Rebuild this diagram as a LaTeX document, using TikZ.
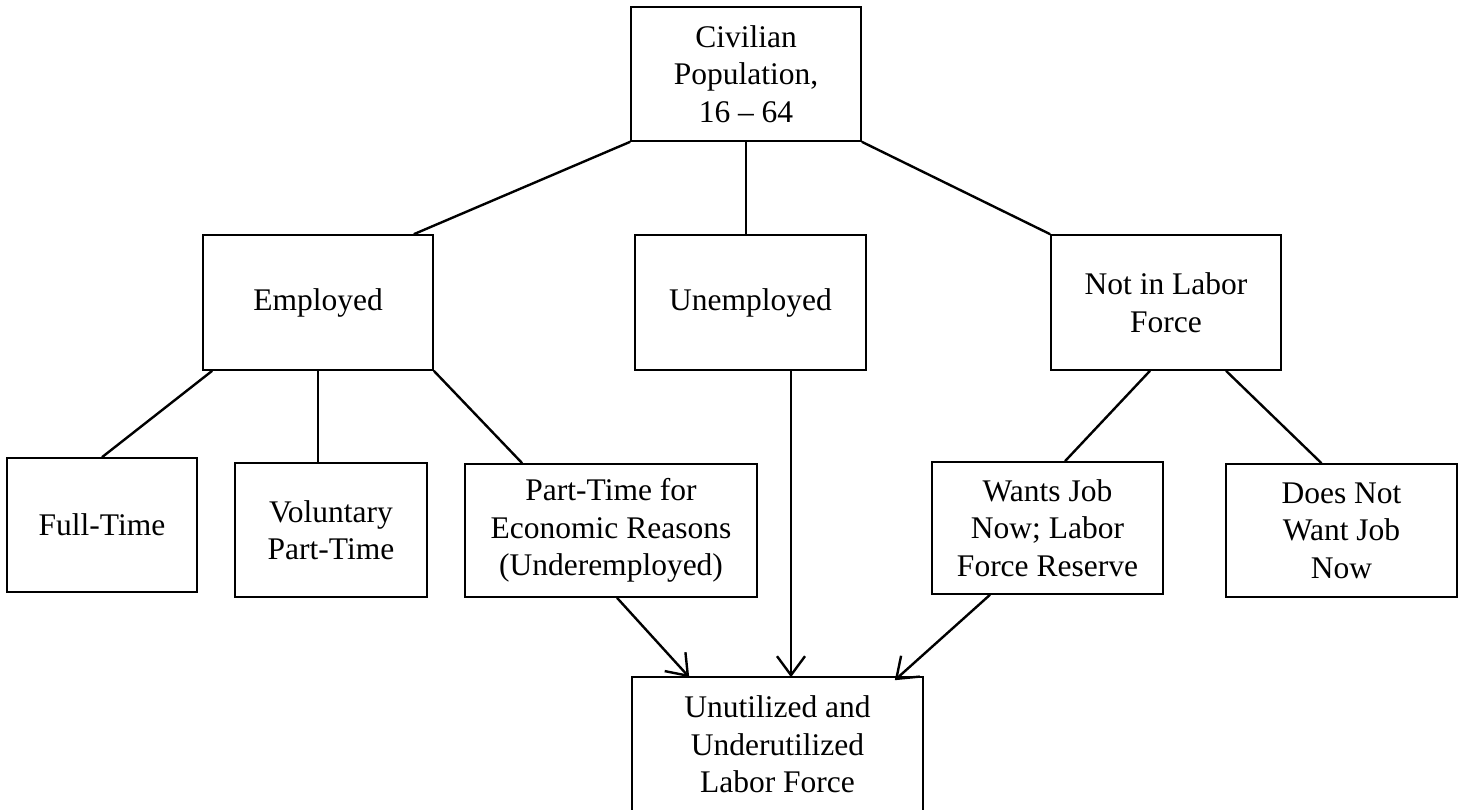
\documentclass[tikz,border=0pt]{standalone}
\usepackage{fontspec}
\setmainfont{Liberation Serif}
\usetikzlibrary{arrows.meta}
\begin{document}
\begin{tikzpicture}[x=1pt,y=-1pt,
  box/.style={draw, line width=1.6pt, rectangle, inner sep=0pt, align=center,
    font=\fontsize{31.5}{37.5}\selectfont},
  link/.style={line width=2.4pt},
  arr/.style={line width=2.4pt, -{Straight Barb[length=19pt,width=28pt,line width=2.4pt]}}]
\useasboundingbox (0,0) rectangle (1461,809);
\node[box, minimum width=230pt, minimum height=134pt] (civ) at (746,74) {Civilian\\Population,\\16 -- 64};
\node[box, minimum width=230pt, minimum height=135pt] (emp) at (318,302.5) {Employed};
\node[box, minimum width=231pt, minimum height=135pt] (unemp) at (750.5,302.5) {Unemployed};
\node[box, minimum width=230pt, minimum height=135pt] (nilf) at (1166,302.5) {Not in Labor\\Force};
\node[box, minimum width=190pt, minimum height=134pt] (ft) at (102,525) {Full-Time};
\node[box, minimum width=192pt, minimum height=134pt] (vpt) at (331,530) {Voluntary\\Part-Time};
\node[box, minimum width=292pt, minimum height=133pt] (pter) at (611,530.5) {Part-Time for\\Economic Reasons\\(Underemployed)};
\node[box, minimum width=231pt, minimum height=132pt] (wants) at (1047.5,528) {Wants Job\\Now; Labor\\Force Reserve};
\node[box, minimum width=231pt, minimum height=133pt] (dnw) at (1341.5,530.5) {Does Not\\Want Job\\Now};
\node[box, minimum width=291pt, minimum height=135pt] (unu) at (777.5,744.5) {Unutilized and\\Underutilized\\Labor Force};

\draw[link] (civ.south west) -- ([xshift=-20pt]emp.north east);
\draw[link] (civ.south) -- (civ.south |- unemp.north);
\draw[link] (civ.south east) -- (nilf.north west);
\draw[link] ([xshift=10pt]emp.south west) -- (ft.north);
\draw[link] (emp.south) -- (emp.south |- vpt.north);
\draw[link] (emp.south east) -- ([xshift=58pt]pter.north west);
\draw[link] ([xshift=-16pt]nilf.south) -- ([xshift=17.5pt]wants.north);
\draw[link] ([xshift=60pt]nilf.south) -- ([xshift=-20pt]dnw.north);
\draw[arr] ([xshift=6pt]pter.south) -- ([xshift=58pt,yshift=-1pt]unu.north west);
\draw[arr] ([xshift=40.5pt]unemp.south) -- ([xshift=40.5pt,yshift=-1pt]unemp.south |- unu.north);
\draw[arr] ([xshift=-57.5pt]wants.south) -- ([xshift=-29pt,yshift=-4pt]unu.north east);
\end{tikzpicture}
\end{document}
